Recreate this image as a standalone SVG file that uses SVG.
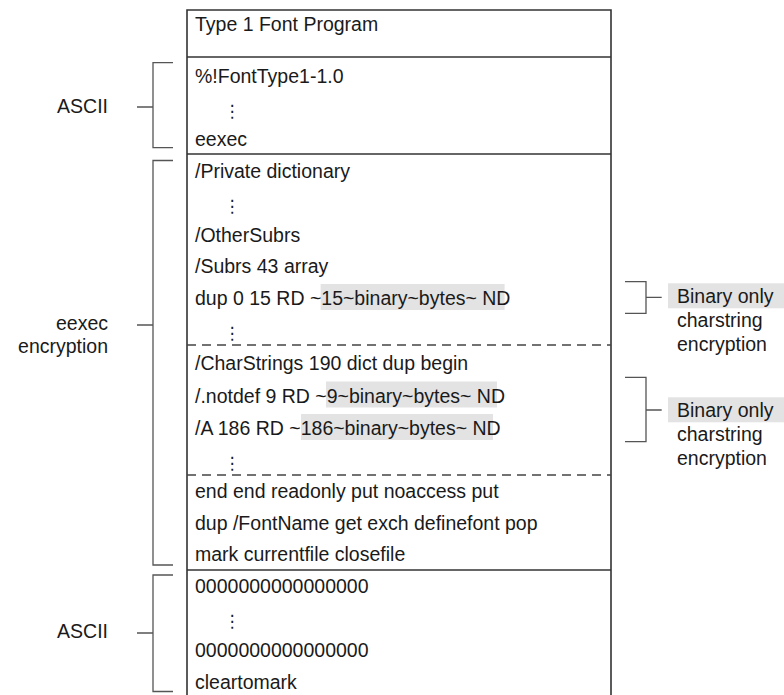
<svg xmlns="http://www.w3.org/2000/svg" width="784" height="695" viewBox="0 0 784 695">
<style>
text{font-family:"Liberation Sans",Arial,sans-serif;font-size:19.5px;fill:#1a1a1a}
.vd{font-family:"DejaVu Sans",sans-serif;font-size:17px;text-anchor:middle}
.frame{fill:none;stroke:#333;stroke-width:1.6}
.dash{fill:none;stroke:#444;stroke-width:1.5;stroke-dasharray:9 6}
.br{fill:none;stroke:#555;stroke-width:1.3}
.hl{fill:#e3e3e3}
.r{text-anchor:end}
</style>
<g id="frame">
<path class="frame" d="M187,695 V10 H611 V695"/>
<line class="frame" x1="187" y1="57" x2="611" y2="57"/>
<line class="frame" x1="187" y1="154" x2="611" y2="154"/>
<line class="frame" x1="187" y1="570" x2="611" y2="570"/>
<line class="dash" x1="187" y1="345" x2="611" y2="345"/>
<line class="dash" x1="187" y1="475" x2="611" y2="475"/>
</g>
<g id="title">
<text x="195" y="31">Type 1 Font Program</text>
</g>
<g id="ascii-header">
<text x="195" y="83">%!FontType1-1.0</text>
<text class="vd" x="232" y="117">⋮</text>
<text x="195" y="146">eexec</text>
</g>
<g id="private-dict">
<text x="195" y="178">/Private dictionary</text>
<text class="vd" x="232" y="212">⋮</text>
<text x="195" y="241.5">/OtherSubrs</text>
<text x="195" y="273">/Subrs 43 array</text>
<rect class="hl" x="320.6" y="284" width="184" height="26"/>
<text x="195" y="305">dup 0 15 RD ~15~binary~bytes~ ND</text>
<text class="vd" x="232" y="339">⋮</text>
</g>
<g id="charstrings">
<text x="195" y="370">/CharStrings 190 dict dup begin</text>
<rect class="hl" x="326" y="381.5" width="171" height="26"/>
<text x="195" y="402.5">/.notdef 9 RD ~9~binary~bytes~ ND</text>
<rect class="hl" x="301" y="414" width="192" height="26"/>
<text x="195" y="435">/A 186 RD ~186~binary~bytes~ ND</text>
<text class="vd" x="232" y="469">⋮</text>
</g>
<g id="trailer">
<text x="195" y="498">end end readonly put noaccess put</text>
<text x="195" y="529.5">dup /FontName get exch definefont pop</text>
<text x="195" y="561">mark currentfile closefile</text>
</g>
<g id="ascii-trailer">
<text x="195" y="593">0000000000000000</text>
<text class="vd" x="232" y="627">⋮</text>
<text x="195" y="656.5">0000000000000000</text>
<text x="195" y="688.5">cleartomark</text>
</g>
<g id="label-ascii-top">
<text class="r" x="108" y="113">ASCII</text>
</g>
<g id="label-eexec">
<text class="r" x="108" y="330">eexec</text>
<text class="r" x="108" y="353">encryption</text>
</g>
<g id="label-ascii-bottom">
<text class="r" x="108" y="638">ASCII</text>
</g>
<g id="label-binary-1">
<rect class="hl" x="668" y="283.3" width="116" height="25"/>
<text x="677" y="303">Binary only</text>
<text x="677" y="327">charstring</text>
<text x="677" y="351">encryption</text>
</g>
<g id="label-binary-2">
<rect class="hl" x="668" y="397.3" width="116" height="25"/>
<text x="677" y="417">Binary only</text>
<text x="677" y="441">charstring</text>
<text x="677" y="465">encryption</text>
</g>
<g id="connectors">
<path class="br" d="M173,62.7 H153 V147.7 H173 M137,107 H153"/>
<path class="br" d="M173,160.5 H153 V565 H173 M137,325 H153"/>
<path class="br" d="M173,575 H153 V691.5 H173 M137,633 H153"/>
<path class="br" d="M625,281.7 H646 V313.3 H625 M646,297.3 H661.7"/>
<path class="br" d="M625,377.3 H646 V441.7 H625 M646,410 H661.7"/>
</g>
</svg>
